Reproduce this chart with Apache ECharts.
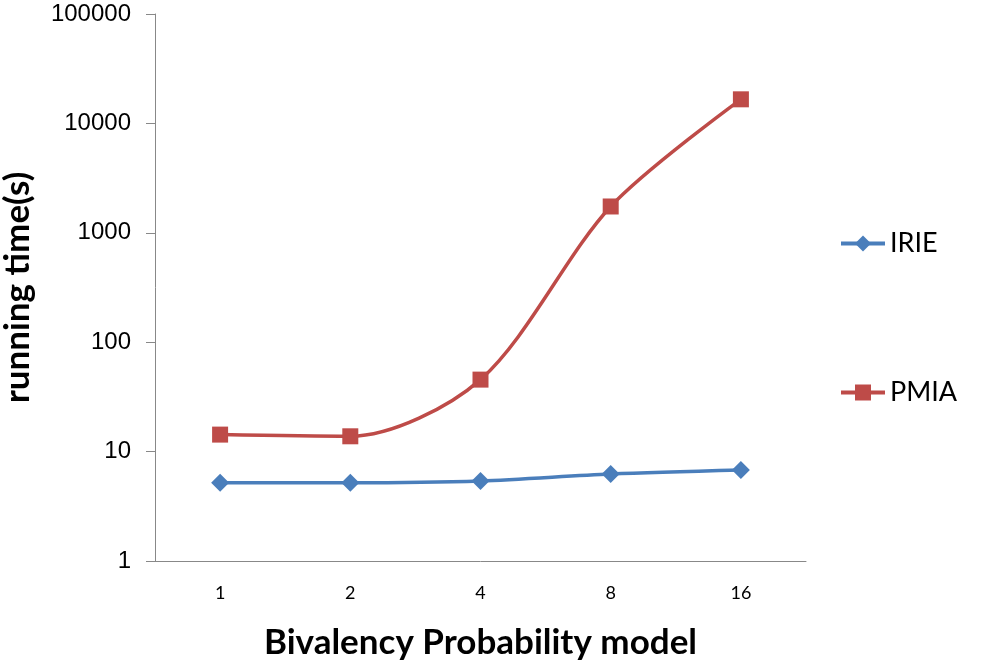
<!DOCTYPE html>
<html><head><meta charset="utf-8">
<script src="https://cdn.jsdelivr.net/npm/echarts@6/dist/echarts.min.js"></script>
<style>html,body{margin:0;padding:0;background:#fff}#c{width:985px;height:668px}</style>
</head><body><div id="c"></div>
<script>
const categories = ['1', '2', '4', '8', '16'];
const irie = [5.2, 5.2, 5.4, 6.25, 6.8];
const pmia = [14.3, 13.8, 45.5, 1740, 16600];
const seriesNames = ['IRIE', 'PMIA'];
const chart = echarts.init(document.getElementById('c'));
chart.setOption({
  animation: false,
  grid: {left: 155, right: 179, top: 14, bottom: 107, outerBoundsMode: 'none', containLabel: false},
  legend: {
    orient: 'vertical', left: 834, top: 225, itemGap: 122,
    itemWidth: 44, itemHeight: 20,
    lineStyle: {width: 4},
    textStyle: {fontFamily: 'Lato', fontSize: 27, color: '#000'},
    data: seriesNames
  },
  xAxis: {
    type: 'category', data: categories, boundaryGap: true,
    axisLine: {lineStyle: {color: '#888', width: 1}},
    axisTick: {show: false},
    axisLabel: {fontFamily: 'Lato', fontSize: 18, color: '#000', margin: 23},
    name: 'Bivalency Probability model', nameLocation: 'middle', nameGap: 64,
    nameTextStyle: {fontFamily: 'Lato', fontWeight: 'bold', fontSize: 35, color: '#000'}
  },
  yAxis: {
    type: 'log', logBase: 10, min: 1, max: 100000,
    axisLine: {show: true, lineStyle: {color: '#888', width: 1}},
    axisTick: {show: true, inside: false, length: 9, lineStyle: {color: '#888'}},
    minorTick: {show: false},
    splitLine: {show: false},
    axisLabel: {fontFamily: 'Liberation Sans', fontSize: 24, color: '#000', margin: 24,
      formatter: function (v) { return String(Math.round(v)); }},
    name: 'running time(s)', nameLocation: 'middle', nameGap: 120, nameRotate: 90,
    nameTextStyle: {fontFamily: 'Lato', fontWeight: 'bold', fontSize: 35, color: '#000'}
  },
  series: [
    {name: 'IRIE', type: 'line', data: irie, smooth: 0.3, symbol: 'diamond', symbolSize: 18,
     lineStyle: {color: '#4A7EBB', width: 3.5}, itemStyle: {color: '#4A7EBB'}},
    {name: 'PMIA', type: 'line', data: pmia, smooth: 0.3, symbol: 'rect', symbolSize: 16,
     lineStyle: {color: '#BE4B48', width: 3.5}, itemStyle: {color: '#BE4B48'}}
  ]
});
</script></body></html>
